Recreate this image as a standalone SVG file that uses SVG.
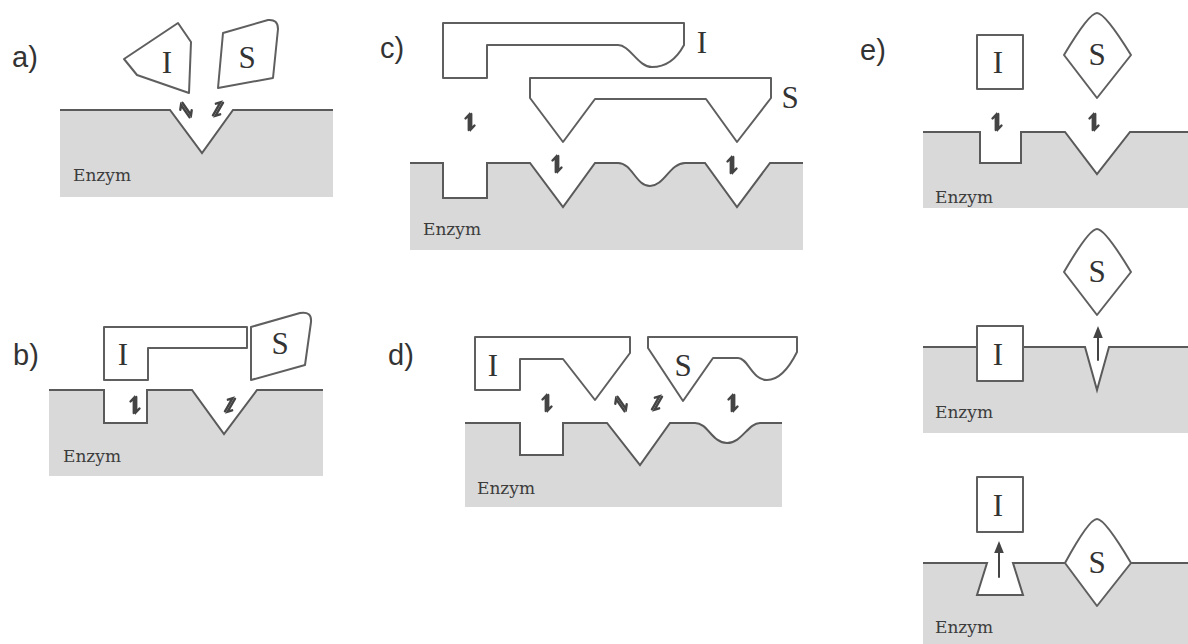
<svg xmlns="http://www.w3.org/2000/svg" xmlns:xlink="http://www.w3.org/1999/xlink" width="1188" height="644" viewBox="0 0 1188 644">
<style>
.enz{fill:#d9d9d9;stroke:none}
.edge{fill:none;stroke:#5a5a5a;stroke-width:2;stroke-linejoin:miter}
.mol{fill:#fff;stroke:#5f5f5f;stroke-width:2;stroke-linejoin:round}
.lbl{font-family:"Liberation Sans",Arial,sans-serif;font-size:29px;fill:#333}
.ms{font-family:"Liberation Serif","Times New Roman",serif;font-size:31px;fill:#333;text-anchor:middle}
.ez{font-family:"DejaVu Serif",serif;font-size:17px;fill:#3c3c3c}
.eqa{fill:none;stroke:#444;stroke-width:2.4;stroke-linecap:round}
.up{fill:none;stroke:#444;stroke-width:2}
</style>
<defs>
<g id="eq"><path d="M-1.2,8 V-7 L-4.5,-3.5"/><path d="M1.2,-8 V7 L4.5,3.5"/></g>
<marker id="ah" viewBox="0 0 10 10" refX="5" refY="5" markerWidth="6" markerHeight="6" orient="auto"><path d="M0,1 L10,5 L0,9 Z" fill="#444"/></marker>
</defs>
<rect width="1188" height="644" fill="#fff"/>

<g id="panel-a">
<text class="lbl" x="12" y="67">a)</text>
<g id="a-enzym"><path class="enz" d="M60,110 H170 L202,153 L233,110 H333 V197 H60 Z"/><path class="edge" d="M60,110 H170 L202,153 L233,110 H333"/><text class="ez" x="73" y="181">Enzym</text></g>
<g id="a-I"><path class="mol" d="M124,59 L178,23 L191,42 L189,93 L137,75 Z"/><text class="ms" x="167" y="73">I</text></g>
<g id="a-S"><path class="mol" d="M223,33 L268,20 Q278,19 278,29 L273,78 L218,88 Z"/><text class="ms" x="247" y="68">S</text></g>
</g>

<g id="panel-b">
<text class="lbl" x="13" y="365">b)</text>
<g id="b-enzym"><path class="enz" d="M49,390 H104 V423 H147 V390 H192 L224,434 L257,390 H323 V476 H49 Z"/><path class="edge" d="M49,390 H104 V423 H147 V390 H192 L224,434 L257,390 H323"/><text class="ez" x="63" y="462">Enzym</text></g>
<g id="b-I"><path class="mol" d="M104,327 H247 V348 H148 V380 H104 Z"/><text class="ms" x="123" y="365">I</text></g>
<g id="b-S"><path class="mol" d="M251,327 L300,313 Q312,311 311,322 L305,365 L251,380 Z"/><text class="ms" x="280" y="354">S</text></g>
</g>

<g id="panel-c">
<text class="lbl" x="380" y="58">c)</text>
<g id="c-enzym"><path class="enz" d="M410,163 H443 V198 H487 V163 H530 L563,207 L595,163 H618 C632,163 636,186 650,186 C664,186 670,163 685,163 H705 L737,207 L770,163 H803 V250 H410 Z"/><path class="edge" d="M410,163 H443 V198 H487 V163 H530 L563,207 L595,163 H618 C632,163 636,186 650,186 C664,186 670,163 685,163 H705 L737,207 L770,163 H803"/><text class="ez" x="423" y="235">Enzym</text></g>
<g id="c-I"><path class="mol" d="M443,23 H684 V45 C676,60 666,67 652,67 C638,67 630,45 618,45 H487 V78 H443 Z"/><text class="ms" x="702" y="53">I</text></g>
<g id="c-S"><path class="mol" d="M530,78 H771 V98 L737,142 L706,99 H595 L563,142 L530,98 Z"/><text class="ms" x="790" y="108">S</text></g>
</g>

<g id="panel-d">
<text class="lbl" x="388" y="365">d)</text>
<g id="d-enzym"><path class="enz" d="M465,423 H520 V455 H563 V423 H607 L640,465 L670,423 H695 C708,423 712,443 727,443 C742,443 748,423 760,423 H782 V507 H465 Z"/><path class="edge" d="M465,423 H520 V455 H563 V423 H607 L640,465 L670,423 H695 C708,423 712,443 727,443 C742,443 748,423 760,423 H782"/><text class="ez" x="477" y="494">Enzym</text></g>
<g id="d-I"><path class="mol" d="M475,337 H630 V353 L595,400 L563,359 H520 V390 H475 Z"/><text class="ms" x="493" y="376">I</text></g>
<g id="d-S"><path class="mol" d="M648,337 H797 V352 C787,372 777,380 767,380 C752,380 748,358 738,358 H713 L683,401 L648,348 Z"/><text class="ms" x="683" y="376">S</text></g>
</g>

<g id="panel-e">
<text class="lbl" x="860" y="60">e)</text>
<g id="e1-enzym"><path class="enz" d="M923,132 H980 V163 H1021 V132 H1065 L1097,174 L1130,132 H1188 V208 H923 Z"/><path class="edge" d="M923,132 H980 V163 H1021 V132 H1065 L1097,174 L1130,132 H1188"/><text class="ez" x="935" y="203">Enzym</text></g>
<g id="e1-I"><rect class="mol" x="977" y="35" width="46" height="54"/><text class="ms" x="998" y="73">I</text></g>
<g id="e1-S"><path class="mol" d="M1064,55 Q1089,13 1097,13 Q1105,13 1131,55 L1097,98 Z"/><text class="ms" x="1097" y="65">S</text></g>

<g id="e2-enzym"><path class="enz" d="M923,347 H1085 L1097,390 L1109,347 H1188 V433 H923 Z"/><path class="edge" d="M923,347 H1085 L1097,390 L1109,347 H1188"/><text class="ez" x="935" y="418">Enzym</text></g>
<g id="e2-I"><rect class="mol" x="977" y="326" width="46" height="55"/><text class="ms" x="998" y="365">I</text></g>
<g id="e2-S"><path class="mol" d="M1064,272 Q1089,229 1097,229 Q1105,229 1131,272 L1097,315 Z"/><text class="ms" x="1097" y="282">S</text></g>

<g id="e3-enzym"><path class="enz" d="M923,563 H987 L977,595 H1023 L1013,563 H1188 V644 H923 Z"/><path class="edge" d="M923,563 H987 L977,595 H1023 L1013,563 H1188"/><text class="ez" x="935" y="633">Enzym</text></g>
<g id="e3-I"><rect class="mol" x="977" y="477" width="46" height="55"/><text class="ms" x="998" y="516">I</text></g>
<g id="e3-S"><path class="mol" d="M1065,563 Q1089,519 1097,519 Q1105,519 1131,563 L1097,606 Z"/><text class="ms" x="1097" y="573">S</text></g>
</g>

<g id="connectors" class="eqa">
<use xlink:href="#eq" transform="translate(186,110) rotate(-35)"/>
<use xlink:href="#eq" transform="translate(218,109) rotate(30)"/>
<use xlink:href="#eq" transform="translate(135,405)"/>
<use xlink:href="#eq" transform="translate(230,405) rotate(30)"/>
<use xlink:href="#eq" transform="translate(470,122)"/>
<use xlink:href="#eq" transform="translate(557,164)"/>
<use xlink:href="#eq" transform="translate(732,165)"/>
<use xlink:href="#eq" transform="translate(547,403)"/>
<use xlink:href="#eq" transform="translate(621,404) rotate(-35)"/>
<use xlink:href="#eq" transform="translate(657,403) rotate(30)"/>
<use xlink:href="#eq" transform="translate(733,403)"/>
<use xlink:href="#eq" transform="translate(997,122)"/>
<use xlink:href="#eq" transform="translate(1094,122)"/>
<path class="up" d="M1098,360 V332" marker-end="url(#ah)"/>
<path class="up" d="M999,577 V547" marker-end="url(#ah)"/>
</g>
</svg>
